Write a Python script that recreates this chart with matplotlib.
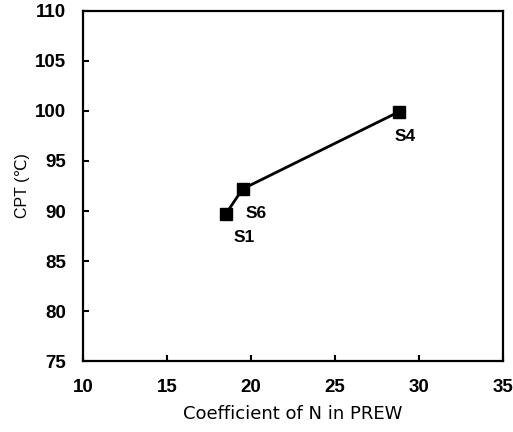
import matplotlib
matplotlib.use("Agg")
import matplotlib.pyplot as plt

plt.rcParams["font.family"] = ["Liberation Sans", "DejaVu Sans"]

# N coefficient in PREW vs. critical pitting temperature
samples = ["S1", "S6", "S4"]
prew_n = [18.5, 19.5, 28.8]
cpt = [89.7, 92.2, 99.9]

# label offsets in points (dx, dy)
label_offsets = {"S1": (13, -17), "S6": (10, -18), "S4": (5, -18)}

fig = plt.figure(figsize=(5.13, 4.32), dpi=100)
ax = fig.add_axes([0.162, 0.164, 0.818, 0.811])

ax.plot(prew_n, cpt, color="black", linewidth=2.0, marker="s", markersize=8)

for name, x, y in zip(samples, prew_n, cpt):
    dx, dy = label_offsets[name]
    ax.annotate(name, (x, y), xytext=(dx, dy), textcoords="offset points",
                ha="center", va="center", fontsize=12.5, fontweight="bold")

ax.set_xlim(10, 35)
ax.set_ylim(75, 110)
ax.set_xticks(range(10, 36, 5))
ax.set_yticks(range(75, 111, 5))
ax.tick_params(direction="in", length=4, width=1.5, labelsize=13.5,
               top=False, right=False)
ax.tick_params(axis="x", pad=13)
ax.tick_params(axis="y", pad=12)
for lbl in ax.get_xticklabels() + ax.get_yticklabels():
    lbl.set_fontweight("bold")
for spine in ax.spines.values():
    spine.set_linewidth(1.6)

ax.set_xlabel("Coefficient of N in PREW", fontsize=13, labelpad=6,
              family="DejaVu Sans")
ax.set_ylabel("CPT (℃)", fontsize=11.5, labelpad=4)

fig.savefig("out.png", dpi=100)
